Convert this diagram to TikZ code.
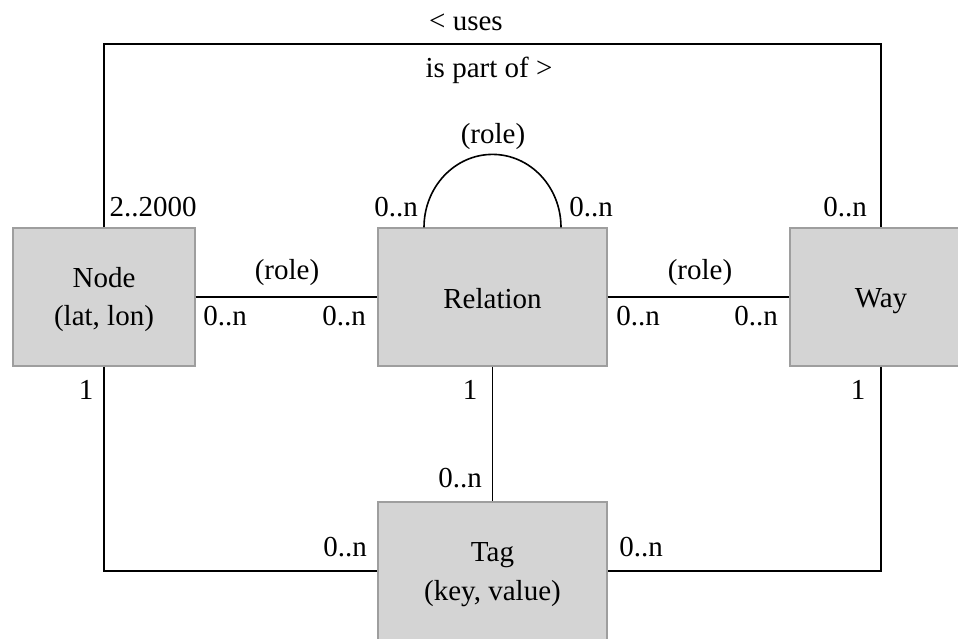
\documentclass[tikz,border=0pt]{standalone}
\usepackage{fontspec}
\setmainfont{Liberation Serif}
\begin{document}
\begin{tikzpicture}[x=1pt,y=-1pt,
  every node/.style={font=\fontsize{29}{35}\selectfont, inner sep=0pt},
  entity/.style={draw=black!38, fill=black!17, line width=1.2pt,
    minimum width=#1, minimum height=138pt},
  caption/.style={align=center, anchor=center},
  link/.style={line width=1.6pt, black},
  lbl/.style={anchor=center}]
\useasboundingbox (0,0) rectangle (958,639);
\clip (0,0) rectangle (958,639);
\fill[white] (0,0) rectangle (958,639);

% entity boxes
\node[entity=182pt] (nd)  at (104,297)   {};
\node[entity=229pt] (rel) at (492.5,297) {};
\node[entity=182pt] (way) at (881,297)   {};
\node[entity=229pt] (tag) at (492.5,571) {};

% entity names
\node[caption] (ndtxt)  at ([yshift=-3pt]nd.center)  {Node\\[3pt](lat, lon)};
\node[caption] (reltxt) at ([yshift=-2pt]rel.center) {Relation};
\node[caption] (waytxt) at ([yshift=-4pt]way.center) {Way};
\node[caption] (tagtxt) at ([yshift=-4pt]tag.center) {Tag\\[4pt](key, value)};

% connectors
\coordinate (top) at (0,44);
\draw[link] (nd.north) -- (nd.north |- top) -- (way.north |- top) -- (way.north);
\draw[link] (nd.east) -- (rel.west);
\draw[link] (rel.east) -- (way.west);
\draw[link] (rel.south) -- (tag.north);
\draw[link] (nd.south) |- (tag.west);
\draw[link] (way.south) |- (tag.east);
\draw[link] ([xshift=-68.5pt]rel.north) arc[start angle=180, end angle=0,
  x radius=68.5pt, y radius=73pt];

% multiplicities and roles
\node[lbl] (l1)  at (466,22)  {< uses};
\node[lbl] (l2)  at (489,70)  {is part of >};
\node[lbl] (l3)  at (493,137) {(role)};
\node[lbl] (l4)  at (153,207) {2..2000};
\node[lbl] (l5)  at (396,207) {0..n};
\node[lbl] (l6)  at (591,207) {0..n};
\node[lbl] (l7)  at (845,207) {0..n};
\node[lbl] (l8)  at (287,273) {(role)};
\node[lbl] (l9)  at (700,273) {(role)};
\node[lbl] (l10) at (225,316) {0..n};
\node[lbl] (l11) at (344,316) {0..n};
\node[lbl] (l12) at (638,316) {0..n};
\node[lbl] (l13) at (756,316) {0..n};
\node[lbl] (l14) at (86,390)  {1};
\node[lbl] (l15) at (470,390) {1};
\node[lbl] (l16) at (858,390) {1};
\node[lbl] (l17) at (460,478) {0..n};
\node[lbl] (l18) at (345,547) {0..n};
\node[lbl] (l19) at (641,547) {0..n};
\end{tikzpicture}
\end{document}
